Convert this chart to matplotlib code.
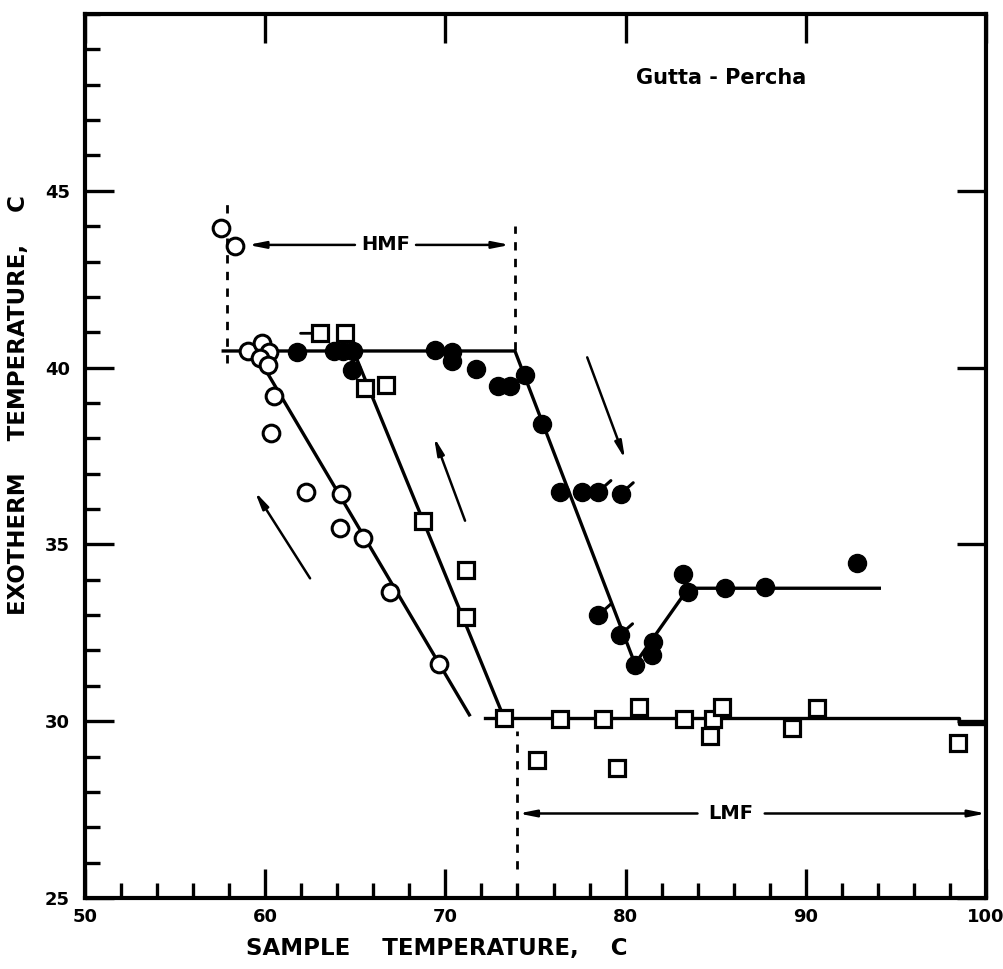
import matplotlib
matplotlib.use('Agg')
import matplotlib.pyplot as plt
from matplotlib.ticker import MultipleLocator

plt.rcParams['font.family'] = ['DejaVu Sans']
plt.rcParams['font.weight'] = 'bold'

# open circles
open_x = [57.55, 58.32, 59.06, 59.8, 60.23, 59.7, 60.17, 60.5, 60.3, 62.26, 64.18, 64.15, 65.4, 66.93, 69.66]
open_y = [43.95, 43.44, 40.47, 40.69, 40.45, 40.27, 40.08, 39.2, 38.14, 36.49, 36.42, 35.46, 35.17, 33.64, 31.61]

# filled circles
filled_x = [61.75, 63.82, 64.34, 64.9, 64.8, 69.42, 70.35, 70.35, 71.7, 72.94, 73.58, 74.4, 75.34,
            76.36, 77.56, 78.49, 79.73, 78.49, 79.69, 80.52, 81.45, 81.54, 83.17, 83.48, 85.52, 87.74, 92.82]
filled_y = [40.45, 40.47, 40.47, 40.47, 39.94, 40.5, 40.45, 40.2, 39.95, 39.47, 39.47, 39.78, 38.41,
            36.49, 36.49, 36.49, 36.43, 33.0, 32.44, 31.59, 31.87, 32.25, 34.17, 33.66, 33.76, 33.79, 34.47]
tailed = [15, 16, 17, 18]

# open squares
square_x = [63.04, 64.43, 65.54, 66.68, 68.74, 71.14, 71.14, 73.25, 75.11, 76.35, 78.74, 79.51,
            80.75, 83.26, 84.7, 84.85, 85.33, 89.25, 90.63, 98.42]
square_y = [40.97, 40.99, 39.42, 39.5, 35.66, 34.28, 32.94, 30.1, 28.9, 30.05, 30.05, 28.69,
            30.41, 30.07, 29.58, 30.07, 30.41, 29.82, 30.37, 29.38]

# drawn curves
open_fit_x = [59.4, 71.33]
open_fit_y = [40.47, 30.18]
square_fit_x = [64.9, 73.25]
square_fit_y = [40.47, 30.1]
filled_fit_x = [57.67, 73.86, 80.52, 83.48, 94.08]
filled_fit_y = [40.47, 40.47, 31.62, 33.76, 33.76]
base_x = [72.2, 98.5, 98.5, 100]
base_y = [30.1, 30.1, 29.93, 29.93]

# direction arrows (tail, head)
dir_arrows = [((62.49, 34.04), (59.43, 36.49)),
              ((71.09, 35.67), (69.37, 38.03)),
              ((77.87, 40.29), (79.97, 37.41))]

fig = plt.figure(figsize=(10.04, 9.69), dpi=100)
ax = fig.add_axes([85 / 1004, 1 - 898 / 969, 901 / 1004, 884 / 969])

lw = 2.4
ax.plot(open_fit_x, open_fit_y, color='black', lw=lw, zorder=2)
ax.plot(square_fit_x, square_fit_y, color='black', lw=lw, zorder=2)
ax.plot(filled_fit_x, filled_fit_y, color='black', lw=lw, zorder=2)
ax.plot(base_x, base_y, color='black', lw=lw, zorder=2)

# dashed limits
dash = dict(color='black', lw=2, ls=(0, (3, 3)), zorder=1)
ax.plot([57.86, 57.86], [40.13, 44.75], **dash)
ax.plot([73.86, 73.86], [40.5, 44.0], **dash)
ax.plot([73.96, 73.96], [25.83, 29.72], **dash)

ax.plot(open_x, open_y, 'o', ms=12, mfc='white', mec='black', mew=2.2, zorder=4)
ax.plot(filled_x, filled_y, 'o', ms=13, color='black', zorder=4)
ax.plot(square_x, square_y, 's', ms=11, mfc='white', mec='black', mew=2.3, zorder=4)

for i in tailed:
    ax.annotate('', xy=(filled_x[i], filled_y[i]), xytext=(9, 8), textcoords='offset points',
                arrowprops=dict(arrowstyle='-', lw=2.2, color='black', shrinkA=0, shrinkB=0), zorder=5)
ax.annotate('', xy=(square_x[0], square_y[0]), xytext=(-14, 0), textcoords='offset points',
            arrowprops=dict(arrowstyle='-', lw=2, color='black', shrinkA=0, shrinkB=0), zorder=3)

head = dict(arrowstyle='-|>,head_length=1.0,head_width=0.2', lw=1.8, color='black',
            shrinkA=0, shrinkB=0)
for tail, tip in dir_arrows:
    ax.annotate('', xy=tip, xytext=tail, arrowprops=head)

# HMF / LMF spans
ax.annotate('', xy=(59.05, 43.47), xytext=(64.98, 43.47), arrowprops=head)
ax.annotate('', xy=(73.58, 43.47), xytext=(68.37, 43.47), arrowprops=head)
ax.text(66.7, 43.47, 'HMF', ha='center', va='center', fontsize=14, fontweight='bold')
ax.annotate('', xy=(74.06, 27.39), xytext=(83.99, 27.39), arrowprops=head)
ax.annotate('', xy=(100, 27.39), xytext=(87.72, 27.39), arrowprops=head)
ax.text(85.85, 27.39, 'LMF', ha='center', va='center', fontsize=14, fontweight='bold')

ax.text(90.05, 48.2, 'Gutta - Percha', ha='right', va='center', fontsize=15, fontweight='bold')

ax.set_xlim(50, 100)
ax.set_ylim(25, 50)
ax.set_xticks([50, 60, 70, 80, 90, 100])
ax.set_yticks([25, 30, 35, 40, 45])
ax.xaxis.set_minor_locator(MultipleLocator(2))
ax.yaxis.set_minor_locator(MultipleLocator(1))
ax.tick_params(which='major', direction='in', length=21, width=2.4, top=True, right=True,
               labelsize=13, pad=7)
ax.tick_params(axis='y', which='major', pad=11)
ax.tick_params(which='minor', direction='in', length=11, width=2.4, top=False, right=False)
for lab in ax.get_xticklabels() + ax.get_yticklabels():
    lab.set_fontweight('bold')
for s in ax.spines.values():
    s.set_linewidth(3)

fig.text(437 / 1004, 1 - 948 / 969, 'SAMPLE    TEMPERATURE,    C', ha='center', va='center',
         fontsize=16.5, fontweight='bold')
fig.text(19 / 1004, 1 - 405 / 969, 'EXOTHERM    TEMPERATURE,    C', ha='center', va='center',
         rotation=90, fontsize=16.5, fontweight='bold')

fig.savefig('out.png', dpi=100, facecolor='white')
